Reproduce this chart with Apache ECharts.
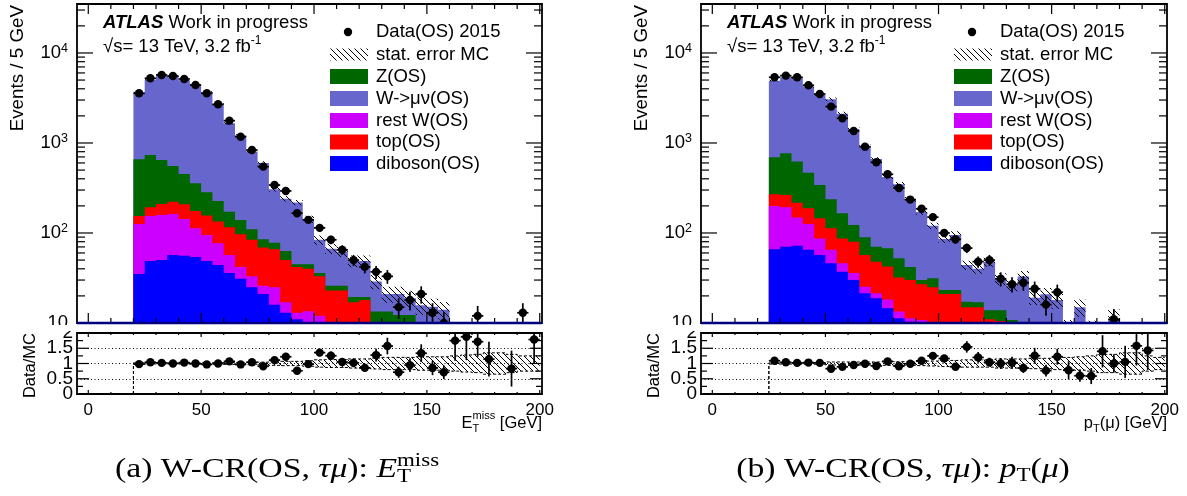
<!DOCTYPE html>
<html><head><meta charset="utf-8">
<script src="https://cdn.jsdelivr.net/npm/echarts@6/dist/echarts.min.js"></script>
<style>html,body{margin:0;padding:0;background:#fff}#c{width:1187px;height:496px}</style>
</head><body><div id="c"></div>
<script>
// ================= DATA =================
// Left panel: E_T^miss, 5 GeV bins (lower edges)
const leftBins = [20,25,30,35,40,45,50,55,60,65,70,75,80,85,90,95,100,105,110,115,120,125,130,135,140,145,150,155,160,165,170,175,180,185,190,195];
const leftDiboson = [35,49,50,57,56,54,49,44,36,31,25,21,16,13,11,9,7,5,4,3,3,2,2,1.5,1,1,1,0.5,0.5,0.4,0.3,0.3,0.2,0.2,0.2,0.2];
const leftRestW   = [91,105,108,106,87,59,46,33,21,11,8,5,9,4,2,4.5,5,3,3,3,2,2,1,1,1,1,0.5,0.5,0.5,0.4,0.3,0.2,0.2,0.2,0.1,0.1];
const leftTop     = [28,39,52,60,65,63,61,57,59,55,51,43,41,33,29,26.5,21,15,16,11,13,4,4,3.5,3,2,1.5,1.5,1,0.7,0.6,0.5,0.4,0.4,0.3,0.3];
const leftZ       = [505,542,437,332,245,181,127,93,56,42,26,16,12,13,3,5,3,3,3,2.5,1.5,5.4,6.4,6.3,7.3,4,3,2.5,1,1,0.8,0.8,0.7,0.4,0.4,0.4];
const leftW       = [2981,4295,4943,4995,4537,4053,3392,2463,1482,1072,694,515,229,177,173,98,48,41,36,29.5,29.5,15.6,7.6,8.7,6.7,7.7,9.2,9,1,0.7,5,1.7,1,1.2,3.5,1.8];
const leftData    = [3565,5235,5700,5550,5140,4410,3565,2690,1770,1175,836,546,341,293,166,140,114,84,65,50,42,37,33,15,18,21,13,10,7,6,12,4,0,2,13,5];
const leftStatErr = [.02,.015,.015,.015,.015,.02,.02,.025,.03,.035,.04,.045,.06,.07,.07,.09,.12,.13,.13,.15,.15,.18,.2,.2,.2,.22,.22,.22,.25,.28,.3,.35,.35,.3,.25,.25];

// Right panel: p_T(mu)
const rightBins = [25,30,35,40,45,50,55,60,65,70,75,80,85,90,95,100,105,110,115,120,125,130,135,140,145,150,155,160,165,170,175,180,185,190,195];
const rightDiboson = [66,70.5,72,65,57,46,37,30,21.4,18.8,14.6,11.3,10.3,9,8,7,6,4.5,3.5,3,2.5,2,1.5,1.2,1,0.8,0.6,0.5,0.4,0.3,0.3,0.2,0.2,0.2,0.1];
const rightRestW   = [134,122.5,77,61,30,19,9,6,3.9,2.6,3.7,2.1,1,1.8,1.5,1.5,1,1,1,0.8,0.5,0.5,0.5,0.4,0.3,0.2,0.2,0.2,0.2,0.2,0.1,0.1,0.1,0.1,0.1];
const rightTop     = [69,71,68,62,59,48,41,44,31.7,26.6,24,18.6,18.7,16.2,15.5,12.5,14,9.5,10.5,7.2,7.5,3.5,2,1.9,1.7,1.5,1.2,1.1,0.9,0.7,0.6,0.5,0.4,0.3,0.3];
const rightZ       = [424,505,404,280,195,124,79,43,32.5,22.5,25.3,20.4,12,3,6.4,2.3,2.3,2.2,2,2.9,3.4,4.8,4,3.5,3,2.5,1.5,1.2,1,0.8,0.8,0.7,0.6,0.6,0.5];
const rightW       = [4234,4616,4644,3780,3090,2817,1946,1309,829.5,592.5,352.4,294.6,195,141,88.6,62.7,71.7,26.8,23,34.1,17.1,15.5,24.9,12.1,14.9,13,5.5,12,6,3,9.2,2.3,2.5,2.3,1];
const rightData    = [5370,5600,5370,4375,3500,2535,1880,1360,910,610,449,316,235,186,150,100,85,68,48,50,31,27,28,24,16,22,7,9,5,7,11,4,6,5,0];
const rightStatErr = [.02,.02,.02,.025,.025,.05,.05,.05,.05,.05,.06,.06,.06,.07,.08,.1,.1,.12,.12,.12,.15,.15,.15,.17,.17,.2,.2,.22,.25,.3,.3,.35,.35,.25,.2];

// axis tick values / labels
const xLabelValues = [0,50,100,150,200];
const decades = [10,100,1000,10000];
const ratioLabelValues = [0,0.5,1,1.5,2];

// ================= STYLE / LAYOUT =================
const FONT = 'Liberation Sans, Arial, Helvetica, sans-serif';
const SERIF = 'Liberation Serif, Times New Roman, serif';
const BW = 5;
const YMIN = 10, YMAX = 35000, XMIN = -5, XMAX = 201, RMIN = 0, RMAX = 2;
const COL = { W:'#6666cc', Z:'#006600', restW:'#cc00ff', top:'#ff0000', diboson:'#0000ff' };

const hatchCanvas = (() => {
  const c = document.createElement('canvas'); c.width = 6; c.height = 6;
  const g = c.getContext('2d'); g.strokeStyle = '#000'; g.lineWidth = 1;
  g.beginPath(); g.moveTo(-1,-1); g.lineTo(7,7); g.moveTo(-1,5); g.lineTo(1,7); g.moveTo(5,-1); g.lineTo(7,1); g.stroke();
  return c;
})();
const hatchFill = { type:'pattern', image: hatchCanvas, repeat:'repeat' };

function stepPts(api, lows, vals, floor, clampMin, startAtFloor, endAtFloor) {
  const pts = [];
  if (startAtFloor) pts.push(api.coord([lows[0], floor]));
  for (let i = 0; i < lows.length; i++) {
    const v = Math.max(vals[i], clampMin);
    pts.push(api.coord([lows[i], v])); pts.push(api.coord([lows[i] + BW, v]));
  }
  if (endAtFloor) pts.push(api.coord([lows[lows.length-1] + BW, floor]));
  return pts;
}

function buildPanel(P, gM, gR) {
  const n = P.bins.length;
  const comps = [P.diboson, P.restW, P.top, P.Z, P.W];
  const colors = [COL.diboson, COL.restW, COL.top, COL.Z, COL.W];
  const cum = []; let run = new Array(n).fill(0);
  comps.forEach(c => { run = run.map((r, i) => r + c[i]); cum.push(run.slice()); });
  const total = cum[4];
  const series = [];
  const one = [[P.bins[0], YMIN]];
  for (let k = 4; k >= 0; k--) {
    const vals = cum[k], col = colors[k];
    series.push({ type:'custom', xAxisIndex:gM, yAxisIndex:gM, clip:true, silent:true, data:one,
      renderItem:(params, api) => ({ type:'polygon', shape:{ points: stepPts(api, P.bins, vals, YMIN, YMIN, true, true) }, style:{ fill: col } }) });
  }
  const up = total.map((t, i) => t * (1 + P.err[i]));
  const lo = total.map((t, i) => t * (1 - P.err[i]));
  series.push({ type:'custom', xAxisIndex:gM, yAxisIndex:gM, clip:true, silent:true, data:one,
    renderItem:(params, api) => {
      const a = stepPts(api, P.bins, up, YMIN, YMIN, false, false);
      const b = stepPts(api, P.bins, lo, YMIN, YMIN, false, false).reverse();
      return { type:'polygon', shape:{ points: a.concat(b) }, style:{ fill: hatchFill } };
    } });
  const pts = [];
  P.bins.forEach((x, i) => { if (P.data[i] >= YMIN) pts.push([x + BW/2, P.data[i], Math.sqrt(P.data[i])]); });
  series.push({ type:'custom', xAxisIndex:gM, yAxisIndex:gM, clip:true, silent:true, data:pts, renderItem: pointRender });
  const rUp = P.err.map(e => 1 + e), rLo = P.err.map(e => 1 - e);
  series.push({ type:'custom', xAxisIndex:gR, yAxisIndex:gR, clip:true, silent:true, data:[[P.bins[0], 1]],
    renderItem:(params, api) => {
      const a = stepPts(api, P.bins, rUp, RMIN, -10, false, false);
      const b = stepPts(api, P.bins, rLo, RMIN, -10, false, false).reverse();
      const ou = stepPts(api, P.bins, rUp, RMIN, -10, true, false);
      const ol = stepPts(api, P.bins, rLo, RMIN, -10, true, false);
      const ds = { stroke:'#000', lineWidth:1, lineDash:[3,2], fill:null };
      return { type:'group', children:[
        { type:'polygon', shape:{ points:a.concat(b) }, style:{ fill: hatchFill } },
        { type:'polyline', shape:{ points:ou }, style:ds },
        { type:'polyline', shape:{ points:ol }, style:ds }
      ] };
    } });
  const rp = [];
  P.bins.forEach((x, i) => { if (P.data[i] > 0) rp.push([x + BW/2, P.data[i] / total[i], Math.sqrt(P.data[i]) / total[i]]); });
  series.push({ type:'custom', xAxisIndex:gR, yAxisIndex:gR, clip:true, silent:true, data:rp, renderItem: pointRender });
  return series;
}

function pointRender(params, api) {
  const x = api.value(0), d = api.value(1), e = api.value(2);
  const c = api.coord([x, d]);
  const t = api.coord([x, d + e]);
  const b = api.coord([x, Math.max(d - e, 1e-3)]);
  const l = api.coord([x - BW/2, d]), r = api.coord([x + BW/2, d]);
  const st = { stroke:'#000', lineWidth:1.7 };
  return { type:'group', children:[
    { type:'line', shape:{ x1:c[0], y1:t[1], x2:c[0], y2:b[1] }, style:st },
    { type:'line', shape:{ x1:l[0], y1:c[1], x2:r[0], y2:c[1] }, style:st },
    { type:'circle', shape:{ cx:c[0], cy:c[1], r:4.2 }, style:{ fill:'#000' } }
  ] };
}

function frameSeries(gi, isLog) {
  const yLo = isLog ? YMIN : RMIN, yHi = isLog ? YMAX : RMAX;
  const xT = []; for (let v = 0; v <= 200; v += 10) xT.push([v, (v % 50 === 0) ? (isLog ? 10 : 4) : (isLog ? 5 : 2)]);
  const yT = [];
  if (isLog) { decades.forEach(d => { yT.push([d, 16]); for (let m = 2; m <= 9; m++) if (m * d < YMAX) yT.push([m * d, 8]); }); }
  else { for (let v = 0; v <= 2.0001; v += 0.25) yT.push([v, (Math.abs(v * 2 - Math.round(v * 2)) < 1e-6) ? 12 : 6]); }
  return { type:'custom', xAxisIndex:gi, yAxisIndex:gi, silent:true, clip:false, data:[[0, yLo]],
    renderItem:(params, api) => {
      const tl = api.coord([XMIN, yHi]), br = api.coord([XMAX, yLo]);
      const ch = []; const st = { stroke:'#000', lineWidth:1.2 };
      xT.forEach(([v, len]) => { const b = api.coord([v, yLo]), t = api.coord([v, yHi]);
        ch.push({ type:'line', shape:{ x1:b[0], y1:b[1], x2:b[0], y2:b[1] - len }, style:st });
        ch.push({ type:'line', shape:{ x1:t[0], y1:t[1], x2:t[0], y2:t[1] + len }, style:st }); });
      yT.forEach(([v, len]) => { const l = api.coord([XMIN, v]), r = api.coord([XMAX, v]);
        ch.push({ type:'line', shape:{ x1:l[0], y1:l[1], x2:l[0] + len, y2:l[1] }, style:st });
        ch.push({ type:'line', shape:{ x1:r[0], y1:r[1], x2:r[0] - len, y2:r[1] }, style:st }); });
      ch.push({ type:'rect', shape:{ x:tl[0], y:tl[1], width:br[0] - tl[0], height:br[1] - tl[1] }, style:{ fill:null, stroke:'#000', lineWidth:1.8 } });
      if (isLog) ch.push({ type:'line', shape:{ x1:tl[0], y1:br[1], x2:br[0], y2:br[1] }, style:{ stroke:'#00007f', lineWidth:2.5 } });
      if (!isLog) {
        ratioLabelValues.forEach(v => { const p = api.coord([XMIN, v]);
          ch.push({ type:'text', x:p[0] - 4, y:p[1], style:{ text:String(v), fontSize:19, fontFamily:FONT, fill:'#000',
            align:'right', verticalAlign:'middle', textAlign:'right', textVerticalAlign:'middle' } }); });
      }
      return { type:'group', children:ch };
    } };
}

// ================= TEXT HELPERS =================
const mctx = document.createElement('canvas').getContext('2d');
function measure(s) { mctx.font = `${s.style||'normal'} ${s.weight||'normal'} ${s.size}px ${s.family}`; return mctx.measureText(s.t).width; }
function layoutSegs(segs, defaults) {
  segs = segs.map(s => Object.assign({}, defaults, s));
  let cx = 0, lastStart = 0, lastW = 0; const pos = [];
  segs.forEach(s => { const w = measure(s);
    if (s.stack) { pos.push(lastStart); lastW = Math.max(lastW, w); cx = lastStart + lastW; }
    else { pos.push(cx); lastStart = cx; lastW = w; cx += w; } });
  return { segs, pos, width: cx };
}
function segText(s, x, y, sx) {
  const el = { type:'text', x:x, y:y + (s.dy || 0), z:20,
    style:{ text:s.t, fontSize:s.size, fontFamily:s.family, fontStyle:s.style||'normal', fontWeight:s.weight||'normal', fill:'#000',
      align:'left', verticalAlign:'middle', textAlign:'left', textVerticalAlign:'middle' } };
  if (sx && sx !== 1) { el.scaleX = sx; el.scaleY = 1; }
  return el;
}
function textLine(segs, x, y, align, defaults, sx) {
  sx = sx || 1;
  const L = layoutSegs(segs, defaults);
  const W = L.width * sx;
  const x0 = align === 'right' ? x - W : align === 'center' ? x - W / 2 : x;
  return L.segs.map((s, i) => segText(s, x0 + L.pos[i] * sx, y, sx));
}

function panelGraphics(dx, xTitleSegs, caption, capCenter, capSize) {
  const g = [];
  const D = { size:18.5, family:FONT };
  g.push(...textLine([{ t:'ATLAS', weight:'bold', style:'italic' }, { t:' Work in progress' }], 103 + dx, 23, 'left', D));
  g.push(...textLine([{ t:'\u221As= 13 TeV, 3.2 fb' }, { t:'-1', size:12, dy:-6 }], 103 + dx, 47, 'left', D));
  const rows = [
    { y:32, kind:'dot', t:'Data(OS) 2015' },
    { y:54.5, kind:'hatch', t:'stat. error MC' },
    { y:76.5, c:COL.Z, t:'Z(OS)' },
    { y:98.5, c:COL.W, t:'W->\u03bc\u03bd(OS)' },
    { y:120.5, c:COL.restW, t:'rest W(OS)' },
    { y:142, c:COL.top, t:'top(OS)' },
    { y:163.5, c:COL.diboson, t:'diboson(OS)' }
  ];
  rows.forEach(r => {
    if (r.kind === 'dot') g.push({ type:'circle', z:20, shape:{ cx:348 + dx, cy:r.y, r:4.2 }, style:{ fill:'#000' } });
    else if (r.kind === 'hatch') g.push({ type:'rect', z:20, shape:{ x:330 + dx, y:r.y - 6, width:38, height:12 }, style:{ fill:hatchFill } });
    else g.push({ type:'rect', z:20, shape:{ x:330 + dx, y:r.y - 7.5, width:38, height:15 }, style:{ fill:r.c } });
    g.push(...textLine([{ t:r.t }], 376 + dx, r.y, 'left', D));
  });
  g.push({ type:'text', x:18 + dx, y:5, rotation:Math.PI / 2, z:20,
    style:{ text:'Events / 5 GeV', fontSize:18.8, fontFamily:FONT, fill:'#000', align:'right', verticalAlign:'middle', textAlign:'right', textVerticalAlign:'middle' } });
  g.push({ type:'text', x:30 + dx, y:333, rotation:Math.PI / 2, z:20,
    style:{ text:'Data/MC', fontSize:16.5, fontFamily:FONT, fill:'#000', align:'right', verticalAlign:'middle', textAlign:'right', textVerticalAlign:'middle' } });
  g.push(...textLine(xTitleSegs, dx === 0 ? 542 : 1167, 423, 'right', { size:16.5, family:FONT }));
  g.push({ type:'rect', z:3, shape:{ x:dx, y:325, width:76, height:6 }, style:{ fill:'#fff' } });
  g.push(...textLine(caption, capCenter, 470, 'center', { size:capSize, family:SERIF }, 1.25));
  return g;
}

// ================= CHART =================
const chart = echarts.init(document.getElementById('c'), null, { renderer:'canvas' });
const grids = [
  { left:77, top:4, width:465, height:319 },
  { left:77, top:333, width:465, height:61 },
  { left:701, top:4, width:466, height:319 },
  { left:701, top:333, width:466, height:61 }
];
const xAxes = grids.map((g, i) => ({
  type:'value', gridIndex:i, min:XMIN, max:XMAX, z:4,
  axisLine:{ show:false }, axisTick:{ show:false }, splitLine:{ show:false },
  axisLabel: (i % 2 === 1) ? { show:true, fontSize:17, color:'#000', fontFamily:FONT, margin:8,
    formatter:v => xLabelValues.includes(v) ? String(v) : '' } : { show:false }
}));
const yAxes = grids.map((g, i) => (i % 2 === 0) ? {
  type:'log', logBase:10, gridIndex:i, min:YMIN, max:YMAX, z:1,
  axisLine:{ show:false }, axisTick:{ show:false }, splitLine:{ show:false },
  axisLabel:{ show:true, color:'#000', fontFamily:FONT, fontSize:18.5, margin:9, lineHeight:22, showMinLabel:true,
    formatter:v => { const k = decades.findIndex(d => Math.abs(d - v) / d < 1e-6); if (k < 0) return ''; return k === 0 ? '10' : '10{s|' + (k + 1) + '}'; },
    rich:{ s:{ fontSize:12.5, fontFamily:FONT, color:'#000', verticalAlign:'top', lineHeight:12 } } }
} : {
  type:'value', gridIndex:i, min:RMIN, max:RMAX, interval:0.5, z:4,
  axisLine:{ show:false }, axisTick:{ show:false },
  splitLine:{ show:true, lineStyle:{ color:'#000', width:1, type:[1,2.5] } },
  axisLabel:{ show:false }
});

const left = { bins:leftBins, diboson:leftDiboson, restW:leftRestW, top:leftTop, Z:leftZ, W:leftW, data:leftData, err:leftStatErr };
const right = { bins:rightBins, diboson:rightDiboson, restW:rightRestW, top:rightTop, Z:rightZ, W:rightW, data:rightData, err:rightStatErr };
const series = [].concat(buildPanel(left, 0, 1), buildPanel(right, 2, 3),
  [frameSeries(0, true), frameSeries(1, false), frameSeries(2, true), frameSeries(3, false)]);

const capA = [{ t:'(a) W-CR(OS, ' }, { t:'\u03c4\u03bc', style:'italic' }, { t:'): ' }, { t:'E', style:'italic' }, { t:'miss', sizeK:0.68, dy:-9 }, { t:'T', sizeK:0.68, dy:7, stack:true }];
const capB = [{ t:'(b) W-CR(OS, ' }, { t:'\u03c4\u03bc', style:'italic' }, { t:'): ' }, { t:'p', style:'italic' }, { t:'T', sizeK:0.68, dy:6 }, { t:'(' }, { t:'\u03bc', style:'italic' }, { t:')' }];
const CAP = 27;
function sized(c, s) { return c.map(x => Object.assign({}, x, { size: x.sizeK ? s * x.sizeK : s })); }

const graphics = [].concat(
  panelGraphics(0, [{ t:'E' }, { t:'miss', size:11, dy:-7 }, { t:'T', size:11, dy:6, stack:true }, { t:' [GeV]' }], sized(capA, CAP), 277, CAP),
  panelGraphics(624, [{ t:'p' }, { t:'T', size:11, dy:6 }, { t:'(\u03bc) [GeV]' }], sized(capB, CAP), 903, CAP)
);

chart.setOption({
  animation:false, backgroundColor:'#fff',
  grid:grids, xAxis:xAxes, yAxis:yAxes, series:series, graphic:{ elements:graphics }
});
</script></body></html>
